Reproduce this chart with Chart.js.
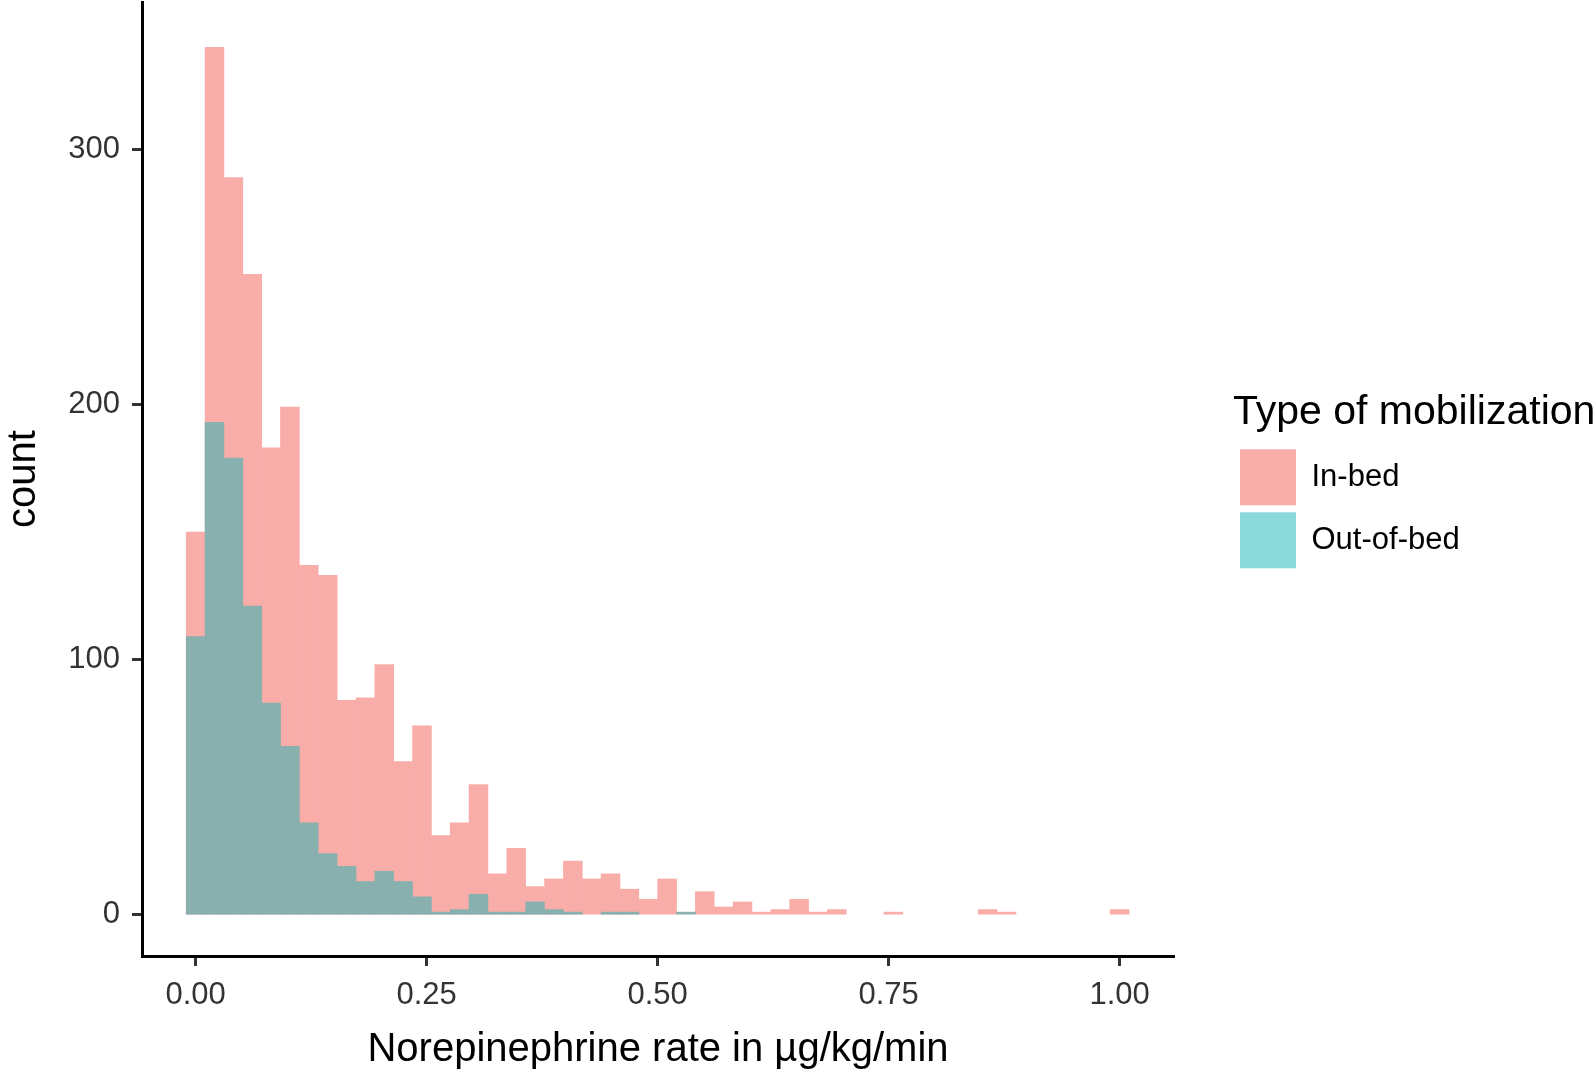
<!DOCTYPE html>
<html>
<head>
<meta charset="utf-8">
<script src="https://cdn.jsdelivr.net/npm/chart.js@4.4.1/dist/chart.umd.min.js"></script>
<style>
  html, body { margin: 0; padding: 0; background: #ffffff; }
  #wrap { width: 1594px; height: 1075px; position: relative; }
</style>
</head>
<body>
<div id="wrap"><canvas id="chart"></canvas></div>
<script>
// Histogram bin centres (norepinephrine rate, µg/kg/min)
const binCenters = [0.0000, 0.0204, 0.0408, 0.0612, 0.0816, 0.1020, 0.1224, 0.1429, 0.1633, 0.1837,
                    0.2041, 0.2245, 0.2449, 0.2653, 0.2857, 0.3061, 0.3265, 0.3469, 0.3673, 0.3878,
                    0.4082, 0.4286, 0.4490, 0.4694, 0.4898, 0.5102, 0.5306, 0.5510, 0.5714, 0.5918,
                    0.6122, 0.6327, 0.6531, 0.6735, 0.6939, 0.7143, 0.7347, 0.7551, 0.7755, 0.7959,
                    0.8163, 0.8367, 0.8571, 0.8776, 0.8980, 0.9184, 0.9388, 0.9592, 0.9796, 1.0000];
// Counts per bin
const inBed = [150, 340, 289, 251, 183, 199, 137, 133, 84, 85,
               98, 60, 74, 31, 36, 51, 16, 26, 11, 14,
               21, 14, 16, 10, 6, 14, 0, 9, 3, 5,
               1, 2, 6, 1, 2, 0, 0, 1, 0, 0,
               0, 0, 2, 1, 0, 0, 0, 0, 0, 2];
const outOfBed = [109, 193, 179, 121, 83, 66, 36, 24, 19, 13,
                  17, 13, 7, 1, 2, 8, 1, 1, 5, 2,
                  1, 0, 1, 1, 0, 0, 1, 0, 0, 0,
                  0, 0, 0, 0, 0, 0, 0, 0, 0, 0,
                  0, 0, 0, 0, 0, 0, 0, 0, 0, 0];
const seriesNames = ['In-bed', 'Out-of-bed'];
const xTickValues = [0, 0.25, 0.5, 0.75, 1.0];
const yTickValues = [0, 100, 200, 300];

const FONT = "'Liberation Sans', Arial, Helvetica, sans-serif";
const pinkFill = '#F9ADA9';
const overlapFill = '#88B0AF';
const legendSwatches = ['#F9ADA9', '#8AD8DA'];

function toPoints(values) {
  const pts = [];
  values.forEach((v, i) => { if (v > 0) pts.push({ x: binCenters[i], y: v }); });
  return pts;
}

const legendWidthPlugin = {
  id: 'legendWidth',
  beforeLayout(chart) {
    const lg = chart.legend;
    if (lg && !lg.__wrapped) {
      const orig = lg.fit.bind(lg);
      lg.fit = function () { orig(); this.width = 361; };
      lg.__wrapped = true;
    }
  }
};

new Chart(document.getElementById('chart'), {
  type: 'bar',
  data: {
    datasets: [
      {
        label: seriesNames[0],
        data: toPoints(inBed),
        backgroundColor: pinkFill,
        borderWidth: 0,
        grouped: false,
        barPercentage: 1,
        categoryPercentage: 1,
        order: 1,
        xAxisID: 'x', yAxisID: 'y'
      },
      {
        label: seriesNames[1],
        data: toPoints(outOfBed),
        backgroundColor: overlapFill,
        borderWidth: 0,
        grouped: false,
        barPercentage: 1,
        categoryPercentage: 1,
        order: 0,
        xAxisID: 'x', yAxisID: 'y'
      }
    ]
  },
  plugins: [legendWidthPlugin],
  options: {
    responsive: true,
    maintainAspectRatio: false,
    animation: false,
    devicePixelRatio: 1,
    layout: { padding: { top: 2, left: 0, right: 0, bottom: 0 } },
    plugins: {
      tooltip: { enabled: false },
      legend: {
        position: 'right',
        align: 'start',
        labels: {
          boxWidth: 56,
          boxHeight: 56,
          padding: 7,
          color: '#000000',
          font: { family: FONT, size: 31 },
          generateLabels(chart) {
            const items = Chart.defaults.plugins.legend.labels.generateLabels(chart);
            items.sort((a, b) => a.datasetIndex - b.datasetIndex);
            items.forEach(it => {
              it.fillStyle = legendSwatches[it.datasetIndex];
              it.strokeStyle = legendSwatches[it.datasetIndex];
              it.lineWidth = 0;
            });
            return items;
          }
        },
        title: {
          display: true,
          text: 'Type of mobilization',
          color: '#000000',
          position: 'start',
          font: { family: FONT, size: 41 },
          padding: { top: 390, bottom: 1 }
        }
      }
    },
    scales: {
      x: {
        type: 'linear',
        position: 'bottom',
        min: -0.0581,
        max: 1.0588,
        offset: false,
        afterBuildTicks(s) { s.ticks = xTickValues.map(v => ({ value: v })); },
        afterFit(s) { s.height = 119; s.paddingLeft = 0; s.paddingRight = 0; },
        ticks: {
          autoSkip: false,
          maxRotation: 0,
          color: '#333333',
          padding: 11,
          font: { family: FONT, size: 31 },
          callback: v => Number(v).toFixed(2)
        },
        grid: {
          display: true,
          drawOnChartArea: false,
          drawTicks: true,
          offset: false,
          tickLength: 10,
          tickWidth: 3,
          tickColor: '#333333'
        },
        border: { display: true, color: '#000000', width: 3 },
        title: {
          display: true,
          text: 'Norepinephrine rate in µg/kg/min',
          color: '#000000',
          font: { family: FONT, size: 40 },
          padding: { top: 0, bottom: 1 }
        }
      },
      y: {
        type: 'linear',
        position: 'left',
        min: -16.2,
        max: 357.8,
        afterBuildTicks(s) { s.ticks = yTickValues.map(v => ({ value: v })); },
        afterFit(s) { s.width = 142; s.paddingTop = 0; s.paddingBottom = 0; },
        ticks: {
          autoSkip: false,
          color: '#333333',
          padding: 12,
          font: { family: FONT, size: 31 },
          callback: v => String(v)
        },
        grid: {
          display: true,
          drawOnChartArea: false,
          drawTicks: true,
          tickLength: 10,
          tickWidth: 3,
          tickColor: '#333333'
        },
        border: { display: true, color: '#000000', width: 3 },
        title: {
          display: true,
          text: 'count',
          color: '#000000',
          font: { family: FONT, size: 40 },
          padding: { top: 0, bottom: 0 }
        }
      },
      spacer: {
        type: 'linear',
        position: 'right',
        display: true,
        afterFit(s) { s.width = 59; s.paddingTop = 0; s.paddingBottom = 0; },
        ticks: { display: false },
        grid: { display: false, drawTicks: false },
        border: { display: false },
        title: { display: false }
      }
    }
  }
});
</script>
</body>
</html>
